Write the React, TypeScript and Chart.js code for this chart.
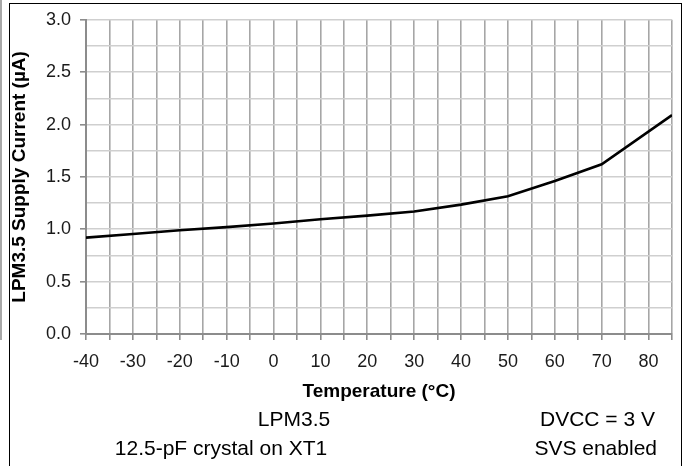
import React, { useEffect, useRef } from "react";
import { Chart, registerables } from "chart.js";

Chart.register(...registerables);

const temperatures = [-40, -30, -20, -10, 0, 10, 20, 30, 40, 50, 60, 70, 85];
const supplyCurrent = [0.92, 0.955, 0.99, 1.02, 1.055, 1.095, 1.13, 1.17, 1.235, 1.315, 1.46, 1.62, 2.09];
const xRange = [-40, 85];
const yRange = [0, 3];
const xTitle = "Temperature (°C)";
const yTitle = "LPM3.5 Supply Current (µA)";
const notes = ["LPM3.5", "DVCC = 3 V", "12.5-pF crystal on XT1", "SVS enabled"];

const FONT = "'Liberation Sans', Arial, Helvetica, sans-serif";

export default function App() {
  const canvasRef = useRef<HTMLCanvasElement | null>(null);

  useEffect(() => {
    const canvas = canvasRef.current;
    if (!canvas) return;
    const chart = new Chart(canvas, {
      type: "line",
      data: {
        datasets: [
          {
            data: temperatures.map((t, i) => ({ x: t, y: supplyCurrent[i] })),
            borderColor: "#000000",
            borderWidth: 2.6,
            pointRadius: 0,
            tension: 0,
            fill: false,
          },
        ],
      },
      options: {
        animation: false,
        responsive: false,
        maintainAspectRatio: false,
        layout: { padding: { left: 0, top: 17, right: 8, bottom: 0 } },
        plugins: { legend: { display: false }, tooltip: { enabled: false } },
        scales: {
          x: {
            type: "linear",
            min: xRange[0],
            max: xRange[1],
            afterFit: (scale: any) => {
              scale.height = 132;
            },
            ticks: {
              stepSize: 5,
              autoSkip: false,
              maxRotation: 0,
              padding: 11,
              color: "#1a1a1a",
              font: { family: FONT, size: 18 },
              callback: (v: any) => (Number(v) % 10 === 0 ? String(v) : ""),
            },
            grid: {
              color: "#a6a6a6",
              lineWidth: 1.6,
              tickLength: 6,
              tickColor: "#8c8c8c",
              tickWidth: 1.6,
            },
            border: { color: "#8c8c8c", width: 2 },
            title: {
              display: true,
              text: xTitle,
              color: "#000",
              font: { family: FONT, size: 19, weight: "bold" },
              padding: { top: 0, bottom: 63 },
            },
          },
          y: {
            min: yRange[0],
            max: yRange[1],
            afterFit: (scale: any) => {
              scale.width = 86;
            },
            ticks: {
              stepSize: 0.25,
              autoSkip: false,
              padding: 9,
              color: "#1a1a1a",
              font: { family: FONT, size: 18 },
              callback: (v: any) => (Math.abs(Number(v) % 0.5) < 1e-9 ? Number(v).toFixed(1) : ""),
            },
            grid: {
              color: "#cfcfcf",
              lineWidth: 1.6,
              tickLength: 6,
              tickWidth: 1.6,
              tickColor: (ctx: any) =>
                ctx.tick && Math.abs(ctx.tick.value % 0.5) < 1e-9 ? "#8c8c8c" : "rgba(0,0,0,0)",
            },
            border: { color: "#8c8c8c", width: 2 },
            title: {
              display: true,
              text: yTitle,
              color: "#000",
              font: { family: FONT, size: 19, weight: "bold" },
              padding: { top: 8, bottom: 0 },
            },
          },
        },
      },
    });
    return () => chart.destroy();
  }, []);

  const noteStyle: React.CSSProperties = {
    position: "absolute",
    fontFamily: FONT,
    fontSize: 21,
    lineHeight: "21px",
    color: "#000",
    whiteSpace: "nowrap",
  };

  return (
    <div
      style={{
        position: "fixed",
        left: 0,
        top: 0,
        width: 683,
        height: 466,
        overflow: "hidden",
        background: "#fff",
      }}
    >
      <div
        style={{
          position: "absolute",
          left: 0,
          top: 0,
          width: 2,
          height: 340,
          background: "#a8a8a8",
        }}
      />
      <div
        style={{
          position: "absolute",
          left: 9,
          top: 3,
          width: 671,
          height: 520,
          border: "1px solid #000",
        }}
      />
      <canvas
        ref={canvasRef}
        width={683}
        height={466}
        style={{ position: "absolute", left: 0, top: 0, width: 683, height: 466 }}
      />
      <div style={{ ...noteStyle, left: 144, width: 300, top: 408, textAlign: "center" }}>{notes[0]}</div>
      <div style={{ ...noteStyle, right: 28, top: 408, textAlign: "right" }}>{notes[1]}</div>
      <div style={{ ...noteStyle, left: 71, width: 300, top: 437, textAlign: "center" }}>{notes[2]}</div>
      <div style={{ ...noteStyle, right: 26, top: 437, textAlign: "right" }}>{notes[3]}</div>
    </div>
  );
}
